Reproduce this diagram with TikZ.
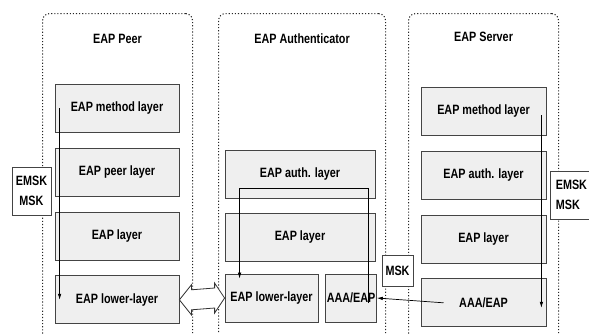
\documentclass[tikz,border=0pt]{standalone}
\usepackage{fontspec}
\setmainfont{Liberation Sans}[FakeStretch=0.8]
\usepackage{tikz}
\usetikzlibrary{
    arrows.meta,
    positioning,
    calc
}
\definecolor{eapgray}{HTML}{444444}
\definecolor{eaplight}{HTML}{EFEFEF}
\tikzset{
    % Dotted entity frame
    entityframe/.style={
        rectangle,
        rounded corners=7pt,
        draw=black!85,
        dotted,
        line width=1.1pt,
        minimum width=#1,
        minimum height=345pt,
        anchor=north west,
        inner sep=0pt
    },
    % Entity title
    entitytitle/.style={
        font=\fontsize{13.5}{15}\selectfont\bfseries,
        inner sep=1pt
    },
    % Layer box
    layerbox/.style={
        rectangle,
        draw=eapgray,
        fill=eaplight,
        line width=0.8pt,
        font=\fontsize{13.5}{15}\selectfont\bfseries,
        minimum width=#1,
        minimum height=48pt,
        inner sep=1pt,
        align=center
    },
    layerbox/.default=124pt,
    % Key box
    keybox/.style={
        rectangle,
        draw=eapgray,
        fill=white,
        line width=0.8pt,
        font=\fontsize{13.5}{20}\selectfont\bfseries,
        inner sep=2pt
    },
    % Key arrow
    keyarrow/.style={
        -{Latex[length=6pt,width=3.5pt]},
        line width=0.7pt,
        color=black
    }
}
\begin{document}
\begin{tikzpicture}[x=1pt,y=-1pt]
    \useasboundingbox (0,0) rectangle (589,333);
    \clip (0,0) rectangle (589,333);

    % frames
    \node[entityframe=150pt] (peer) at (42,13) {};
    \node[entityframe=167pt] (auth) at (218,13) {};
    \node[entityframe=150pt] (server) at (408,13) {};
    \node[entitytitle] (peer-title) at ($(peer.north)+(0,26)$) {EAP Peer};
    \node[entitytitle] (auth-title) at ($(auth.north)+(0,26)$) {EAP Authenticator};
    \node[entitytitle] (server-title) at ($(server.north)+(0,24)$) {EAP Server};

    % peer stack
    \begin{scope}[node distance=15pt]
        \node[layerbox=124pt, anchor=north] (peer-method) at (117,84) {EAP method layer};
        \node[layerbox=124pt, below=of peer-method] (peer-layer) {EAP peer layer};
        \node[layerbox=124pt, below=of peer-layer] (peer-eap) {EAP layer};
        \node[layerbox=124pt, below=of peer-eap] (peer-lower) {EAP lower-layer};
    \end{scope}

    % authenticator stack
    \node[layerbox=150pt, anchor=north] (auth-layer) at (300,150) {EAP auth. layer};
    \node[layerbox=150pt, below=14pt of auth-layer] (auth-eap) {EAP layer};
    \node[layerbox=93pt, below=12pt of auth-eap.south west, anchor=north west] (auth-lower) {EAP lower-layer};
    \node[layerbox=50pt, right=7pt of auth-lower] (auth-aaa) {AAA/EAP};

    % server stack
    \begin{scope}[node distance=15pt]
        \node[layerbox=125pt, anchor=north] (server-method) at (483.5,87) {EAP method layer};
        \node[layerbox=125pt, below=of server-method] (server-layer) {EAP auth. layer};
        \node[layerbox=125pt, below=of server-layer] (server-eap) {EAP layer};
        \node[layerbox=125pt, below=of server-eap] (server-aaa) {AAA/EAP};
    \end{scope}

    % keys
    \node[keybox, minimum width=39pt, minimum height=48pt, align=center] (peer-keys) at (31.5,191) {EMSK\\MSK};
    \node[keybox, minimum width=42pt, minimum height=48pt, align=left, anchor=west] (server-keys) at (550,195) {EMSK\\MSK};
    \node[keybox, minimum width=31pt, minimum height=31pt] (msk) at (397.5,270.5) {MSK};

    % key flows
    \draw[keyarrow] ([xshift=5pt]peer-method.west) -- ([xshift=5pt]peer-lower.west);
    \draw[keyarrow] ([xshift=-8pt,yshift=-5pt]auth-aaa.east) |- ([yshift=10pt]auth-layer.south)
        -| ([xshift=15pt,yshift=-5pt]auth-lower.north west);
    \draw[keyarrow] ([xshift=-5pt,yshift=-4pt]server-method.east) -- ([xshift=-5pt,yshift=-5pt]server-aaa.east);
    \draw[keyarrow] ([xshift=-40pt]server-aaa.center) -- (auth-aaa.east);

    % link between lower layers
    \draw[draw=black!80, fill=white, line width=0.8pt]
        (peer-lower.east) -- ++(12,-15) -- ++(0,5) -- ($(auth-lower.west)+(-10,-10)$)
        -- ++(0,-5) -- (auth-lower.west) -- ++(-10,15) -- ++(0,-5)
        -- ($(peer-lower.east)+(12,10)$) -- ++(0,5) -- cycle;
\end{tikzpicture}
\end{document}
